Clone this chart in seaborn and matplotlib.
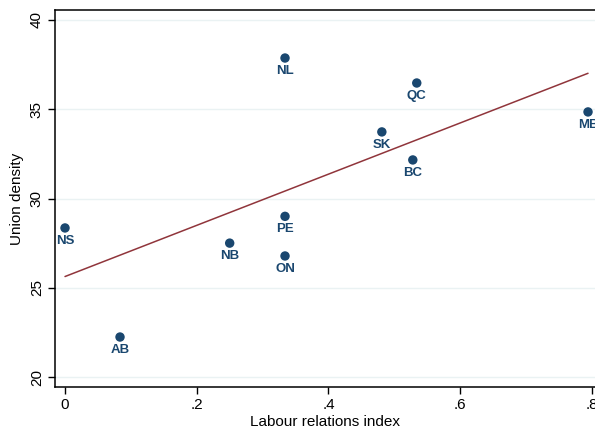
import matplotlib
matplotlib.use("Agg")
import matplotlib.pyplot as plt
import seaborn as sns
import pandas as pd

# Province-level observations
provinces = ["NS", "AB", "NB", "PE", "ON", "NL", "SK", "QC", "BC", "MB"]
labour_index = [0.0, 0.0835, 0.25, 0.334, 0.334, 0.334, 0.481, 0.534, 0.528, 0.794]
union_density = [28.35, 22.24, 27.5, 29.0, 26.78, 37.87, 33.73, 36.47, 32.16, 34.85]

x_ticks = [0, 0.2, 0.4, 0.6, 0.8]
x_ticklabels = ["0", ".2", ".4", ".6", ".8"]
y_ticks = [20, 25, 30, 35, 40]

df = pd.DataFrame({"prov": provinces, "lri": labour_index, "ud": union_density})

sns.set_theme(style="white")
plt.rcParams["font.family"] = ["Liberation Sans", "DejaVu Sans"]

navy = "#1a476f"
maroon = "#90353b"

fig = plt.figure(figsize=(5.95, 4.29), dpi=100)
ax = fig.add_axes([55 / 595, 42 / 429, 540 / 595, 377 / 429])

sns.regplot(data=df, x="lri", y="ud", ax=ax, ci=None,
            scatter_kws=dict(s=46, color=navy, edgecolor="none", alpha=1, zorder=3),
            line_kws=dict(color=maroon, lw=1.1, zorder=2))

for _, r in df.iterrows():
    ax.annotate(r["prov"], (r["lri"], r["ud"]), xytext=(0, -5),
                textcoords="offset points", ha="center", va="top",
                fontsize=9.5, fontweight="bold", color=navy, zorder=4)

ax.set_xlim(-0.0152, 0.8046)
ax.set_ylim(19.44, 40.56)
ax.set_xticks(x_ticks)
ax.set_xticklabels(x_ticklabels)
ax.set_yticks(y_ticks)
ax.set_yticklabels([str(v) for v in y_ticks], rotation=90, va="center")

ax.grid(axis="y", color="#eaf2f3", lw=1.0, zorder=0)
ax.set_axisbelow(True)

for side in ["left", "bottom", "top"]:
    ax.spines[side].set_visible(True)
    ax.spines[side].set_color("black")
    ax.spines[side].set_linewidth(1.1)
ax.spines["right"].set_visible(False)

ax.tick_params(axis="both", which="major", direction="out", length=5, width=1,
               color="black", labelsize=11, labelcolor="black", bottom=True, left=True)
ax.tick_params(axis="x", pad=3)
ax.tick_params(axis="y", pad=3)

ax.set_xlabel("Labour relations index", fontsize=11, color="black", labelpad=2)
ax.set_ylabel("Union density", fontsize=11, color="black", labelpad=4)

fig.savefig("out.png", dpi=100)
